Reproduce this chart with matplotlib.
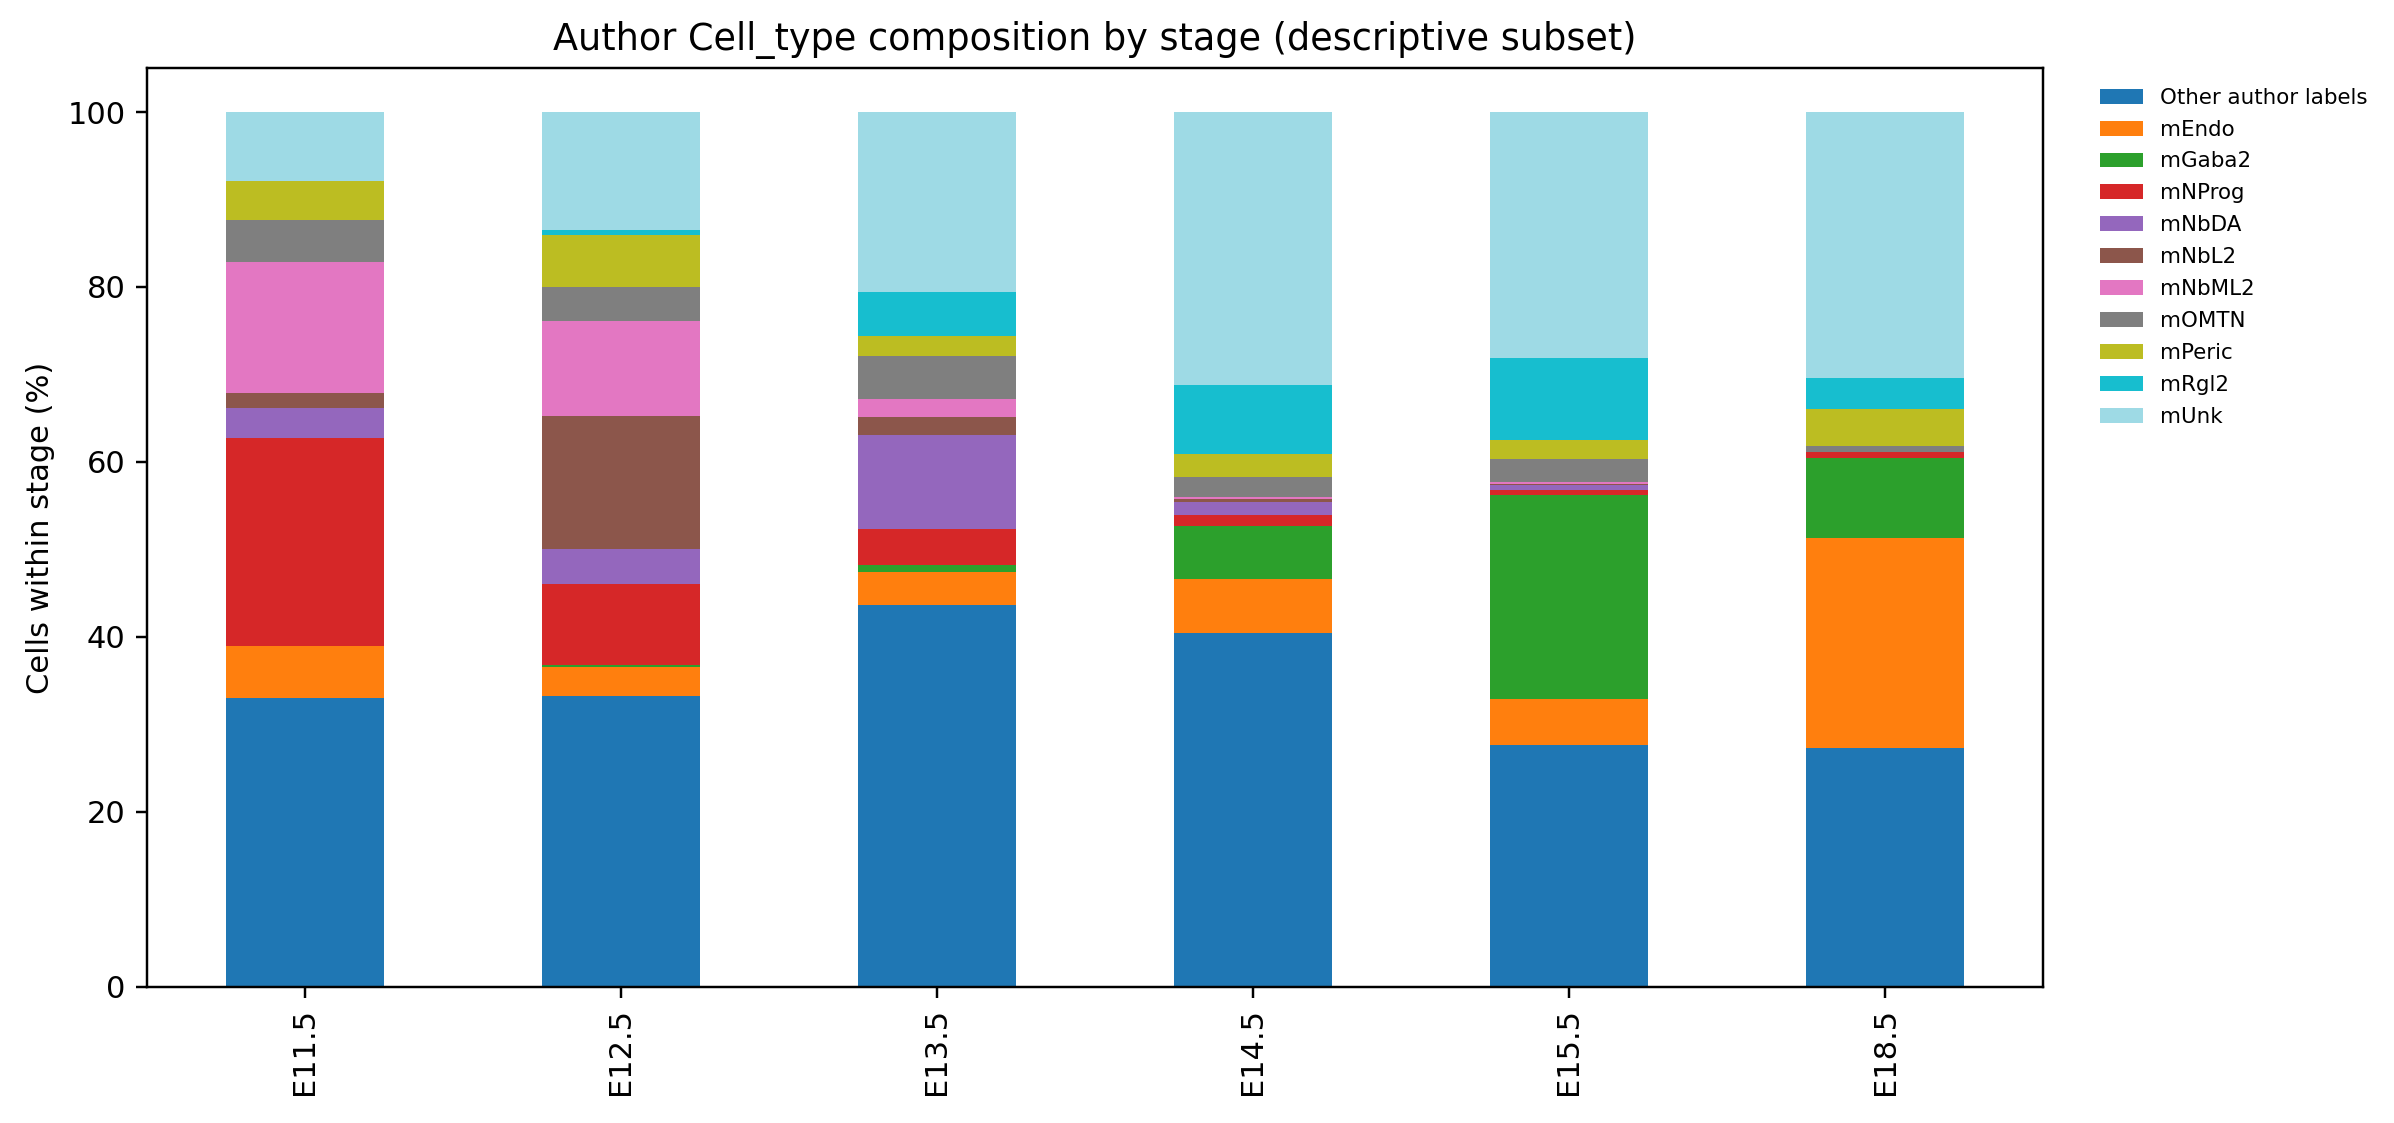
import matplotlib
matplotlib.use("Agg")
import matplotlib.pyplot as plt
import numpy as np
import pandas as pd

stages = ["E11.5", "E12.5", "E13.5", "E14.5", "E15.5", "E18.5"]

# percent of cells within each stage
other_labels = [33.0, 33.2, 43.6, 40.4, 27.7, 27.3]
m_endo = [5.9, 3.4, 3.8, 6.2, 5.2, 24.0]
m_gaba2 = [0.0, 0.25, 0.8, 6.15, 23.4, 9.1]
m_nprog = [23.8, 9.25, 4.1, 1.25, 0.58, 0.7]
m_nbda = [3.5, 4.0, 10.75, 1.4, 0.57, 0.0]
m_nbl2 = [1.7, 15.2, 2.05, 0.35, 0.05, 0.0]
m_nbml2 = [15.0, 10.9, 2.05, 0.25, 0.23, 0.0]
m_omtn = [4.7, 3.8, 4.95, 2.3, 2.6, 0.7]
m_peric = [4.5, 5.95, 2.3, 2.65, 2.2, 4.2]
m_rgl2 = [0.0, 0.6, 5.0, 7.9, 9.4, 3.6]
m_unk = [7.9, 13.5, 20.6, 31.2, 28.15, 30.4]

df = pd.DataFrame({
    "Other author labels": other_labels,
    "mEndo": m_endo,
    "mGaba2": m_gaba2,
    "mNProg": m_nprog,
    "mNbDA": m_nbda,
    "mNbL2": m_nbl2,
    "mNbML2": m_nbml2,
    "mOMTN": m_omtn,
    "mPeric": m_peric,
    "mRgl2": m_rgl2,
    "mUnk": m_unk,
}, index=stages)

# renormalise so every stage sums to 100
df = df.div(df.sum(axis=1), axis=0) * 100

dpi = 220
fig = plt.figure(figsize=(2394 / dpi, 1123 / dpi), dpi=dpi)
ax = fig.add_axes([0.0613, 0.1214, 0.7921, 0.8178])

df.plot(kind="bar", stacked=True, colormap="tab20", ax=ax, width=0.5)

ax.set_ylabel("Cells within stage (%)")
ax.set_title("Author Cell_type composition by stage (descriptive subset)")
ax.legend(bbox_to_anchor=(1.02, 1), loc="upper left", frameon=False,
          fontsize=7, labelspacing=0.56)

fig.savefig("out.png", dpi=dpi)
plt.close(fig)
